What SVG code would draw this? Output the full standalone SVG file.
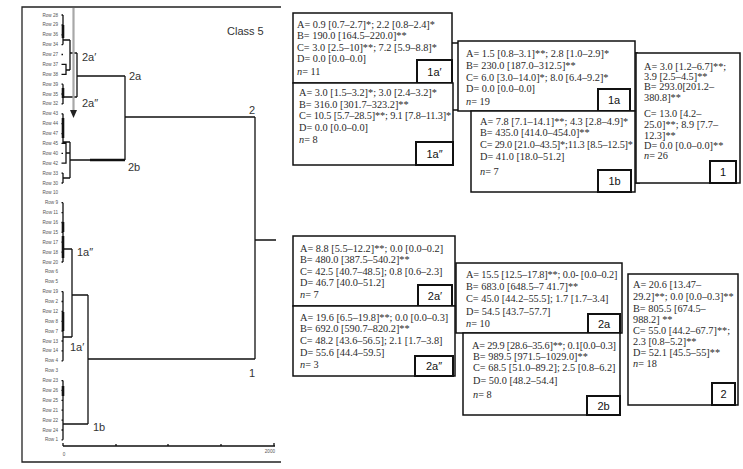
<svg xmlns="http://www.w3.org/2000/svg" width="743" height="469" viewBox="0 0 743 469">
<style>
.frame{fill:none;stroke:#222;stroke-width:1.3}
.dl{fill:none;stroke:#111;stroke-width:1.3}
.th{fill:none;stroke:#111;stroke-width:2.6}
.row{font-family:"Liberation Sans",Arial,sans-serif;font-size:4.6px;fill:#555;text-anchor:end}
.lab{font-family:"Liberation Sans",Arial,sans-serif;font-size:11px;fill:#333}
.box{fill:#fff;stroke:#111;stroke-width:1.5}
.tag{fill:#fff;stroke:#111;stroke-width:2}
.tagt{font-family:"Liberation Sans",Arial,sans-serif;font-size:11px;fill:#111;text-anchor:middle}
.bt{font-family:"Liberation Serif","Times New Roman",serif;font-size:10.3px;fill:#2a2a2a}
.it{font-style:italic}
.con{fill:none;stroke:#111;stroke-width:1.5}
</style>
<rect width="743" height="469" fill="#fff"/>
<g id="dendrogram">
<path class="frame" d="M281,7 H22 V462 H281"/>
<text class="lab" x="227" y="35" font-size="12">Class 5</text>
<g id="rows">
<text class="row" x="58" y="16.5">Row 28</text>
<text class="row" x="58" y="26.4">Row 29</text>
<text class="row" x="58" y="36.3">Row 36</text>
<text class="row" x="58" y="46.1">Row 34</text>
<text class="row" x="58" y="56">Row 27</text>
<text class="row" x="58" y="65.9">Row 37</text>
<text class="row" x="58" y="75.8">Row 38</text>
<text class="row" x="58" y="85.7">Row 39</text>
<text class="row" x="58" y="95.5">Row 35</text>
<text class="row" x="58" y="105.4">Row 32</text>
<text class="row" x="58" y="115.3">Row 43</text>
<text class="row" x="58" y="125.2">Row 44</text>
<text class="row" x="58" y="135.1">Row 47</text>
<text class="row" x="58" y="144.9">Row 45</text>
<text class="row" x="58" y="154.8">Row 40</text>
<text class="row" x="58" y="164.7">Row 42</text>
<text class="row" x="58" y="174.6">Row 33</text>
<text class="row" x="58" y="184.5">Row 30</text>
<text class="row" x="58" y="194.3">Row 10</text>
<text class="row" x="58" y="204.2">Row 9</text>
<text class="row" x="58" y="214.1">Row 11</text>
<text class="row" x="58" y="224">Row 16</text>
<text class="row" x="58" y="233.9">Row 15</text>
<text class="row" x="58" y="243.7">Row 17</text>
<text class="row" x="58" y="253.6">Row 18</text>
<text class="row" x="58" y="263.5">Row 20</text>
<text class="row" x="58" y="273.4">Row 6</text>
<text class="row" x="58" y="283.3">Row 5</text>
<text class="row" x="58" y="293.1">Row 19</text>
<text class="row" x="58" y="303">Row 2</text>
<text class="row" x="58" y="312.9">Row 12</text>
<text class="row" x="58" y="322.8">Row 8</text>
<text class="row" x="58" y="332.7">Row 7</text>
<text class="row" x="58" y="342.5">Row 13</text>
<text class="row" x="58" y="352.4">Row 14</text>
<text class="row" x="58" y="362.3">Row 4</text>
<text class="row" x="58" y="372.2">Row 3</text>
<text class="row" x="58" y="382.1">Row 23</text>
<text class="row" x="58" y="391.9">Row 26</text>
<text class="row" x="58" y="401.8">Row 25</text>
<text class="row" x="58" y="411.7">Row 21</text>
<text class="row" x="58" y="421.6">Row 22</text>
<text class="row" x="58" y="431.5">Row 24</text>
<text class="row" x="58" y="441.3">Row 1</text>
</g>
<g id="tree">
<path class="dl" d="M61.5,15H63M61.5,24.9H63M61.5,34.8H63M61.5,44.6H63M61.5,54.5H63M61.5,64.4H63M61.5,74.3H63M61.5,84.2H63M61.5,94H63M61.5,103.9H63M61.5,113.8H63M61.5,123.7H63M61.5,133.6H63M61.5,143.4H63M61.5,153.3H63M61.5,163.2H63M61.5,173.1H63M61.5,183H63M61.5,202.7H63M61.5,212.6H63M61.5,222.5H63M61.5,232.4H63M61.5,242.2H63M61.5,252.1H63M61.5,262H63M61.5,291.6H63M61.5,301.5H63M61.5,311.4H63M61.5,321.3H63M61.5,331.2H63M61.5,341H63M61.5,350.9H63M61.5,360.8H63M61.5,380.6H63M61.5,390.4H63M61.5,400.3H63M61.5,410.2H63M61.5,420.1H63M61.5,430H63M61.5,439.8H63"/>
<path class="dl" d="M63,15V44.6M63,40H70M63,64.4H66V74.3H63M66,70H70M70,40V70M70,53H77M63,84.2V103.9M63,97H77M77,53V97M77,76H125"/>
<path class="dl" d="M63,113.8V143.4M63,142H70M63,143.4H66V163.2H63M66,153H70M63,173.1V183M63,178H70M70,142V178M70,160H125M125,76V160M125,117H255"/>
<path class="dl" d="M63,202.7V262M63,249H72M63,291.6V360.8M63,337H72M72,249V337M72,295H88M63,380.6V439.8M63,424H88M88,295V424M88,359H255M255,117V359M255,240H276"/>
<path class="th" d="M63,25V38M63,88V98M63,118V138M90,160H125M63,222V232M63,236V258M63,312V331M63,386V396"/>
<line x1="73.5" y1="8" x2="73.5" y2="111" stroke="#a8a8a8" stroke-width="2.2"/>
<polygon points="70,110 77,110 73.5,118" fill="#222"/>
</g>
<g id="axis">
<path class="dl" d="M63,446H275M63,443V446M116,444V446M168,444V446M221,444V446M274,443V446"/>
<text class="row" x="64" y="456" style="text-anchor:middle">0</text>
<text class="row" x="275" y="453">2000</text>
</g>
<text class="lab" x="82" y="61">2a′</text>
<text class="lab" x="82" y="107">2a″</text>
<text class="lab" x="129" y="80">2a</text>
<text class="lab" x="128" y="171">2b</text>
<text class="lab" x="77" y="256">1a″</text>
<text class="lab" x="70" y="351">1a′</text>
<text class="lab" x="93" y="431">1b</text>
<text class="lab" x="249" y="114">2</text>
<text class="lab" x="249" y="377">1</text>
</g>
<g id="connectors">
<path class="con" d="M452,43H458M453,110H460M635,53H638M635,183H640"/>
</g>
<g id="box-1a1">
<rect class="box" x="293" y="13" width="159" height="70"/>
<text class="bt" x="297" y="27.5">A= 0.9 [0.7–2.7]*; 2.2  [0.8–2.4]*</text>
<text class="bt" x="297" y="39">B= 190.0 [164.5–220.0]**</text>
<text class="bt" x="297" y="50.5">C= 3.0 [2.5–10]**; 7.2  [5.9–8.8]*</text>
<text class="bt" x="297" y="62">D= 0.0 [0.0–0.0]</text>
<text class="bt" x="297" y="75"><tspan class="it">n</tspan>= 11</text>
<rect class="tag" x="417" y="60" width="35" height="23"/>
<text class="tagt" x="434.5" y="76">1a′</text>
</g>
<g id="box-1a2">
<rect class="box" x="293" y="83" width="160" height="82"/>
<text class="bt" x="299" y="95.5">A= 3.0 [1.5–3.2]*; 3.0 [2.4–3.2]*</text>
<text class="bt" x="299" y="107.5">B= 316.0 [301.7–323.2]**</text>
<text class="bt" x="299" y="118.5" letter-spacing="-0.15">C= 10.5 [5.7–28.5]**; 9.1 [7.8–11.3]*</text>
<text class="bt" x="299" y="130.5">D= 0.0 [0.0–0.0]</text>
<text class="bt" x="299" y="142.5"><tspan class="it">n</tspan>= 8</text>
<rect class="tag" x="416" y="142" width="37" height="23"/>
<text class="tagt" x="434.5" y="158">1a″</text>
</g>
<g id="box-1a">
<rect class="box" x="458" y="41" width="177" height="70"/>
<text class="bt" x="466" y="56.5">A= 1.5 [0.8–3.1]**; 2.8  [1.0–2.9]*</text>
<text class="bt" x="466" y="68.5">B= 230.0 [187.0–312.5]**</text>
<text class="bt" x="466" y="80.5">C= 6.0 [3.0–14.0]*; 8.0 [6.4–9.2]*</text>
<text class="bt" x="466" y="91.5">D= 0.0 [0.0–0.0]</text>
<text class="bt" x="466" y="104.5"><tspan class="it">n</tspan>= 19</text>
<rect class="tag" x="598" y="89" width="32" height="22"/>
<text class="tagt" x="614" y="104">1a</text>
</g>
<g id="box-1b">
<rect class="box" x="471" y="111" width="164" height="81"/>
<text class="bt" x="480" y="124.5">A= 7.8 [7.1–14.1]**; 4.3  [2.8–4.9]*</text>
<text class="bt" x="480" y="135.5">B= 435.0 [414.0–454.0]**</text>
<text class="bt" x="480" y="147.5" letter-spacing="-0.2">C= 29.0 [21.0–43.5]*;11.3 [8.5–12.5]*</text>
<text class="bt" x="480" y="159.5">D= 41.0 [18.0–51.2]</text>
<text class="bt" x="480" y="174.5"><tspan class="it">n</tspan>= 7</text>
<rect class="tag" x="598" y="170" width="33" height="22"/>
<text class="tagt" x="614.5" y="185">1b</text>
</g>
<g id="box-1">
<rect class="box" x="636" y="53" width="104" height="130"/>
<text class="bt" x="644" y="70">A= 3.0 [1.2–6.7]**;</text>
<text class="bt" x="644" y="80">3.9  [2.5–4.5]**</text>
<text class="bt" x="644" y="90">B= 293.0[201.2–</text>
<text class="bt" x="644" y="101">380.8]**</text>
<text class="bt" x="644" y="117">C= 13.0 [4.2–</text>
<text class="bt" x="644" y="128">25.0]**; 8.9  [7.7–</text>
<text class="bt" x="644" y="138.5">12.3]**</text>
<text class="bt" x="644" y="149">D= 0.0 [0.0–0.0]**</text>
<text class="bt" x="644" y="159"><tspan class="it">n</tspan>= 26</text>
<rect class="tag" x="710" y="161" width="26" height="22"/>
<text class="tagt" x="723" y="176">1</text>
</g>
<g id="box-2a1">
<rect class="box" x="293" y="236" width="162" height="70"/>
<text class="bt" x="300" y="251.5">A= 8.8 [5.5–12.2]**; 0.0  [0.0–0.2]</text>
<text class="bt" x="300" y="262.5">B= 480.0 [387.5–540.2]**</text>
<text class="bt" x="300" y="274.5">C= 42.5 [40.7–48.5]; 0.8  [0.6–2.3]</text>
<text class="bt" x="300" y="285.5">D= 46.7 [40.0–51.2]</text>
<text class="bt" x="300" y="297.5"><tspan class="it">n</tspan>= 7</text>
<rect class="tag" x="418" y="285" width="34" height="21"/>
<text class="tagt" x="435" y="300">2a′</text>
</g>
<g id="box-2a2">
<rect class="box" x="293" y="306" width="162" height="70"/>
<text class="bt" x="300" y="320.5">A= 19.6 [6.5–19.8]**; 0.0 [0.0–0.3]</text>
<text class="bt" x="300" y="331.5">B= 692.0 [590.7–820.2]**</text>
<text class="bt" x="300" y="343.5">C= 48.2  [43.6–56.5]; 2.1  [1.7–3.8]</text>
<text class="bt" x="300" y="355.5">D= 55.6 [44.4–59.5]</text>
<text class="bt" x="300" y="367.5"><tspan class="it">n</tspan>= 3</text>
<rect class="tag" x="415" y="356" width="38" height="20"/>
<text class="tagt" x="434" y="370">2a″</text>
</g>
<g id="box-2a">
<rect class="box" x="456" y="263" width="166" height="70"/>
<text class="bt" x="466" y="277.5" letter-spacing="-0.15">A= 15.5 [12.5–17.8]**; 0.0- [0.0–0.2]</text>
<text class="bt" x="466" y="289.5">B= 683.0 [648.5–7 41.7]**</text>
<text class="bt" x="466" y="301.5">C= 45.0 [44.2–55.5]; 1.7 [1.7–3.4]</text>
<text class="bt" x="466" y="314.5">D= 54.5 [43.7–57.7]</text>
<text class="bt" x="466" y="326.5"><tspan class="it">n</tspan>= 10</text>
<rect class="tag" x="588" y="314" width="32" height="19"/>
<text class="tagt" x="604" y="328">2a</text>
</g>
<g id="box-2b">
<rect class="box" x="463" y="333" width="157" height="82"/>
<text class="bt" x="472" y="348.5" letter-spacing="-0.2">A= 29.9 [28.6–35.6]**; 0.1[0.0–0.3]</text>
<text class="bt" x="473" y="359.5">B= 989.5 [971.5–1029.0]**</text>
<text class="bt" x="473" y="370.5">C= 68.5  [51.0–89.2]; 2.5 [0.8–6.2]</text>
<text class="bt" x="473" y="383.5">D= 50.0 [48.2–54.4]</text>
<text class="bt" x="473" y="397.5"><tspan class="it">n</tspan>= 8</text>
<rect class="tag" x="587" y="396" width="33" height="19"/>
<text class="tagt" x="603.5" y="410">2b</text>
</g>
<g id="box-2">
<rect class="box" x="628" y="274" width="110" height="131"/>
<text class="bt" x="633" y="288">A= 20.6 [13.47–</text>
<text class="bt" x="633" y="299.5">29.2]**; 0.0 [0.0–0.3]**</text>
<text class="bt" x="633" y="312">B= 805.5 [674.5–</text>
<text class="bt" x="633" y="323">988.2] **</text>
<text class="bt" x="633" y="334">C= 55.0 [44.2–67.7]**;</text>
<text class="bt" x="633" y="345">2.3  [0.8–5.2]**</text>
<text class="bt" x="633" y="356">D= 52.1 [45.5–55]**</text>
<text class="bt" x="633" y="367"><tspan class="it">n</tspan>= 18</text>
<rect class="tag" x="712" y="383" width="23" height="22"/>
<text class="tagt" x="723.5" y="398">2</text>
</g>
</svg>
